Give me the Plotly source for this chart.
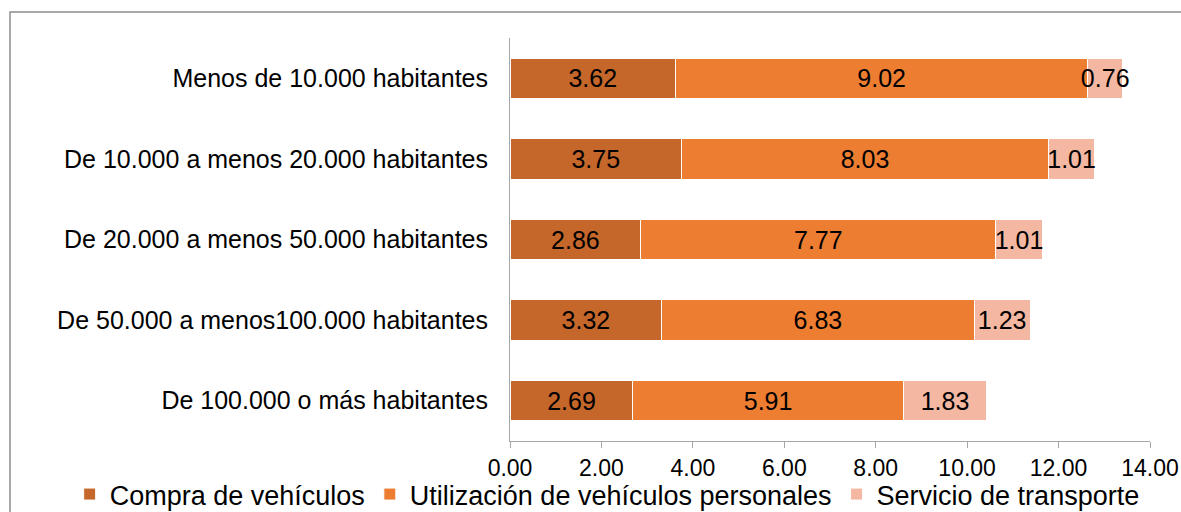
import plotly.graph_objects as go

categories = [
    "Menos de 10.000 habitantes",
    "De 10.000 a menos 20.000 habitantes",
    "De 20.000 a menos 50.000 habitantes",
    "De 50.000 a menos100.000 habitantes",
    "De 100.000 o más habitantes",
]
compra = [3.62, 3.75, 2.86, 3.32, 2.69]
utilizacion = [9.02, 8.03, 7.77, 6.83, 5.91]
servicio = [0.76, 1.01, 1.01, 1.23, 1.83]

series = [
    ("Compra de vehículos", compra, "#C5662B"),
    ("Utilización de vehículos personales", utilizacion, "#ED7D31"),
    ("Servicio de transporte", servicio, "#F4B7A1"),
]

fig = go.Figure()
for name, vals, color in series:
    fig.add_trace(
        go.Bar(
            y=categories,
            x=vals,
            name=name,
            orientation="h",
            marker=dict(color=color, line=dict(color="white", width=1)),
            text=[f"{v:.2f}" for v in vals],
            textposition="inside",
            insidetextanchor="middle",
            constraintext="none",
            textangle=0,
            textfont=dict(color="black", size=25),
            cliponaxis=False,
        )
    )

fig.update_layout(
    barmode="stack",
    bargap=0.5,
    width=1181,
    height=512,
    margin=dict(l=510, r=31, t=38, b=71, autoexpand=False),
    paper_bgcolor="white",
    plot_bgcolor="white",
    font=dict(family="Liberation Sans, Arial", size=24, color="black"),
    showlegend=True,
    legend=dict(
        orientation="h",
        traceorder="normal",
        x=-0.688,
        xanchor="left",
        y=-0.072,
        yanchor="top",
        bgcolor="rgba(0,0,0,0)",
        font=dict(size=27),
        itemwidth=30,
    ),
)
fig.update_xaxes(
    range=[0, 14],
    dtick=2,
    tickformat=".2f",
    showgrid=False,
    zeroline=False,
    showline=True,
    linecolor="#A6A6A6",
    linewidth=1,
    ticks="outside",
    tickcolor="#A6A6A6",
    ticklen=6,
    tickfont=dict(size=23),
    automargin=False,
)
fig.update_yaxes(
    autorange="reversed",
    showgrid=False,
    showline=True,
    linecolor="#A6A6A6",
    linewidth=1,
    ticks="",
    ticklabelstandoff=16,
    tickfont=dict(size=25),
    automargin=False,
)

# outer chart border
fig.add_shape(
    type="rect",
    xref="paper",
    yref="paper",
    x0=-0.78125,
    x1=1.3,
    y0=-0.4,
    y1=1.0645,
    line=dict(color="#8C8C8C", width=1.5),
)

fig.write_html(
    "out.html",
    config={"displayModeBar": False},
    post_script="document.body.style.margin='0';",
)
